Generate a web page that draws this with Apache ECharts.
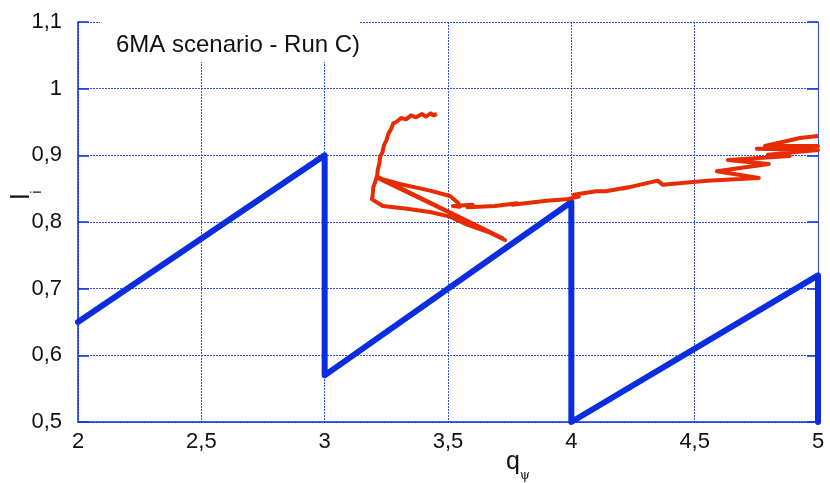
<!DOCTYPE html>
<html>
<head>
<meta charset="utf-8">
<script src="https://cdn.jsdelivr.net/npm/echarts@6/dist/echarts.min.js"></script>
<style>html,body{margin:0;padding:0;background:#fff}#c{width:830px;height:483px}</style>
</head>
<body>
<div id="c"></div>
<script>
// Blue sawtooth (q_psi, l_i)
var blueX = [2, 3, 3, 4, 4, 5, 5];
var blueY = [0.65, 0.90, 0.57, 0.83, 0.50, 0.72, 0.50];

// Red trajectory
var redX = [3.455,3.44,3.43,3.41,3.395,3.37,3.35,3.33,3.31,3.29,3.278,3.27,3.258,3.25,3.24,3.235,3.225,3.222,3.215,3.213,3.205,3.197,3.195,3.192,
  3.236,3.334,3.427,3.508,3.577,3.670,3.731,
  3.212,3.72,3.215,
  3.305,3.427,3.508,3.540,3.548,
  3.52,3.60,3.58,3.69,3.78,3.76,3.90,3.98,4.03,4.01,4.10,4.14,4.23,4.21,4.35,4.37,4.55,
  4.76,4.59,4.80,4.635,4.886,4.797,5.0,4.752,5.0,4.785,4.927,5.0];
var redY = [0.962,0.960,0.963,0.958,0.962,0.957,0.960,0.954,0.956,0.950,0.948,0.940,0.932,0.922,0.915,0.905,0.898,0.888,0.878,0.870,0.860,0.852,0.842,0.834,
  0.824,0.820,0.815,0.808,0.796,0.784,0.773,
  0.868,0.776,0.866,
  0.857,0.847,0.839,0.829,0.823,
  0.824,0.826,0.822,0.824,0.828,0.826,0.832,0.834,0.838,0.841,0.846,0.846,0.852,0.850,0.862,0.856,0.862,
  0.866,0.876,0.887,0.893,0.899,0.901,0.908,0.910,0.914,0.914,0.926,0.929];

var xTicks = [2, 2.5, 3, 3.5, 4, 4.5, 5];
var yTicks = [0.5, 0.6, 0.7, 0.8, 0.9, 1.0, 1.1];

function zip(a, b) { return a.map(function (v, i) { return [v, b[i]]; }); }
function fmt(v) { return String(Math.round(v * 10) / 10).replace('.', ','); }

var AX = '#1030e0';
var FONT = '"Liberation Sans", Arial, Helvetica, sans-serif';
var grid = {color: '#3050e8', width: 1, type: [2, 1]};

var chart = echarts.init(document.getElementById('c'), null, {renderer: 'canvas'});
chart.setOption({
  animation: false,
  backgroundColor: '#fff',
  title: {
    text: '6MA scenario - Run C)',
    left: 100, top: 16,
    padding: [17, 0, 5, 16],
    backgroundColor: '#fff',
    textStyle: {fontFamily: FONT, fontSize: 24, fontWeight: 'normal', color: '#111', lineHeight: 24}
  },
  grid: {left: 78, right: 12, top: 22, bottom: 61, containLabel: false, outerBoundsMode: 'none'},
  xAxis: {
    type: 'value', min: 2, max: 5, interval: 0.5,
    name: '{q|q}{s|ψ}',
    nameLocation: 'middle', nameGap: 20, nameMoveOverlap: false,
    nameTextStyle: {
      padding: [0, 0, 0, 140],
      rich: {
        q: {fontFamily: FONT, fontSize: 25, color: '#111', lineHeight: 40, verticalAlign: 'middle'},
        s: {fontFamily: '"DejaVu Serif", "Liberation Serif", serif', fontSize: 13, color: '#111', lineHeight: 14, verticalAlign: 'bottom'}
      }
    },
    axisLine: {show: true, lineStyle: {color: AX, width: 1.5}},
    axisTick: {show: false},
    axisLabel: {margin: 9, fontFamily: FONT, fontSize: 22, color: '#111', formatter: fmt},
    splitLine: {show: true, lineStyle: grid}
  },
  yAxis: [{
    type: 'value', min: 0.5, max: 1.1, interval: 0.1,
    name: '{l|l}{i|i}',
    nameLocation: 'middle', nameGap: 34, nameMoveOverlap: false,
    nameTextStyle: {
      padding: [0, 0, 0, 54],
      rich: {
        l: {fontFamily: FONT, fontSize: 26, color: '#111', lineHeight: 44, verticalAlign: 'middle'},
        i: {fontFamily: FONT, fontSize: 15, color: '#111', lineHeight: 12, verticalAlign: 'bottom'}
      }
    },
    axisLine: {show: true, lineStyle: {color: AX, width: 1.5}},
    axisTick: {show: true, inside: true, length: 11, lineStyle: {color: AX, width: 1.5}},
    axisLabel: {margin: 16, fontFamily: FONT, fontSize: 22, color: '#111', formatter: fmt},
    splitLine: {show: true, lineStyle: grid}
  }, {
    type: 'value', min: 0.5, max: 1.1, interval: 0.1, position: 'right',
    axisLine: {show: true, lineStyle: {color: '#3050e8', width: 1}},
    axisTick: {show: true, inside: true, length: 11, lineStyle: {color: AX, width: 1.5}},
    axisLabel: {show: false},
    splitLine: {show: false}
  }],
  series: [{
    type: 'line', data: zip(blueX, blueY), showSymbol: false, z: 3,
    lineStyle: {color: '#0a2de0', width: 6, cap: 'round', join: 'round'}
  }, {
    type: 'line', data: zip(redX, redY), showSymbol: false, z: 4,
    lineStyle: {color: '#e62c00', width: 4, join: 'round'}
  }]
});
</script>
</body>
</html>
